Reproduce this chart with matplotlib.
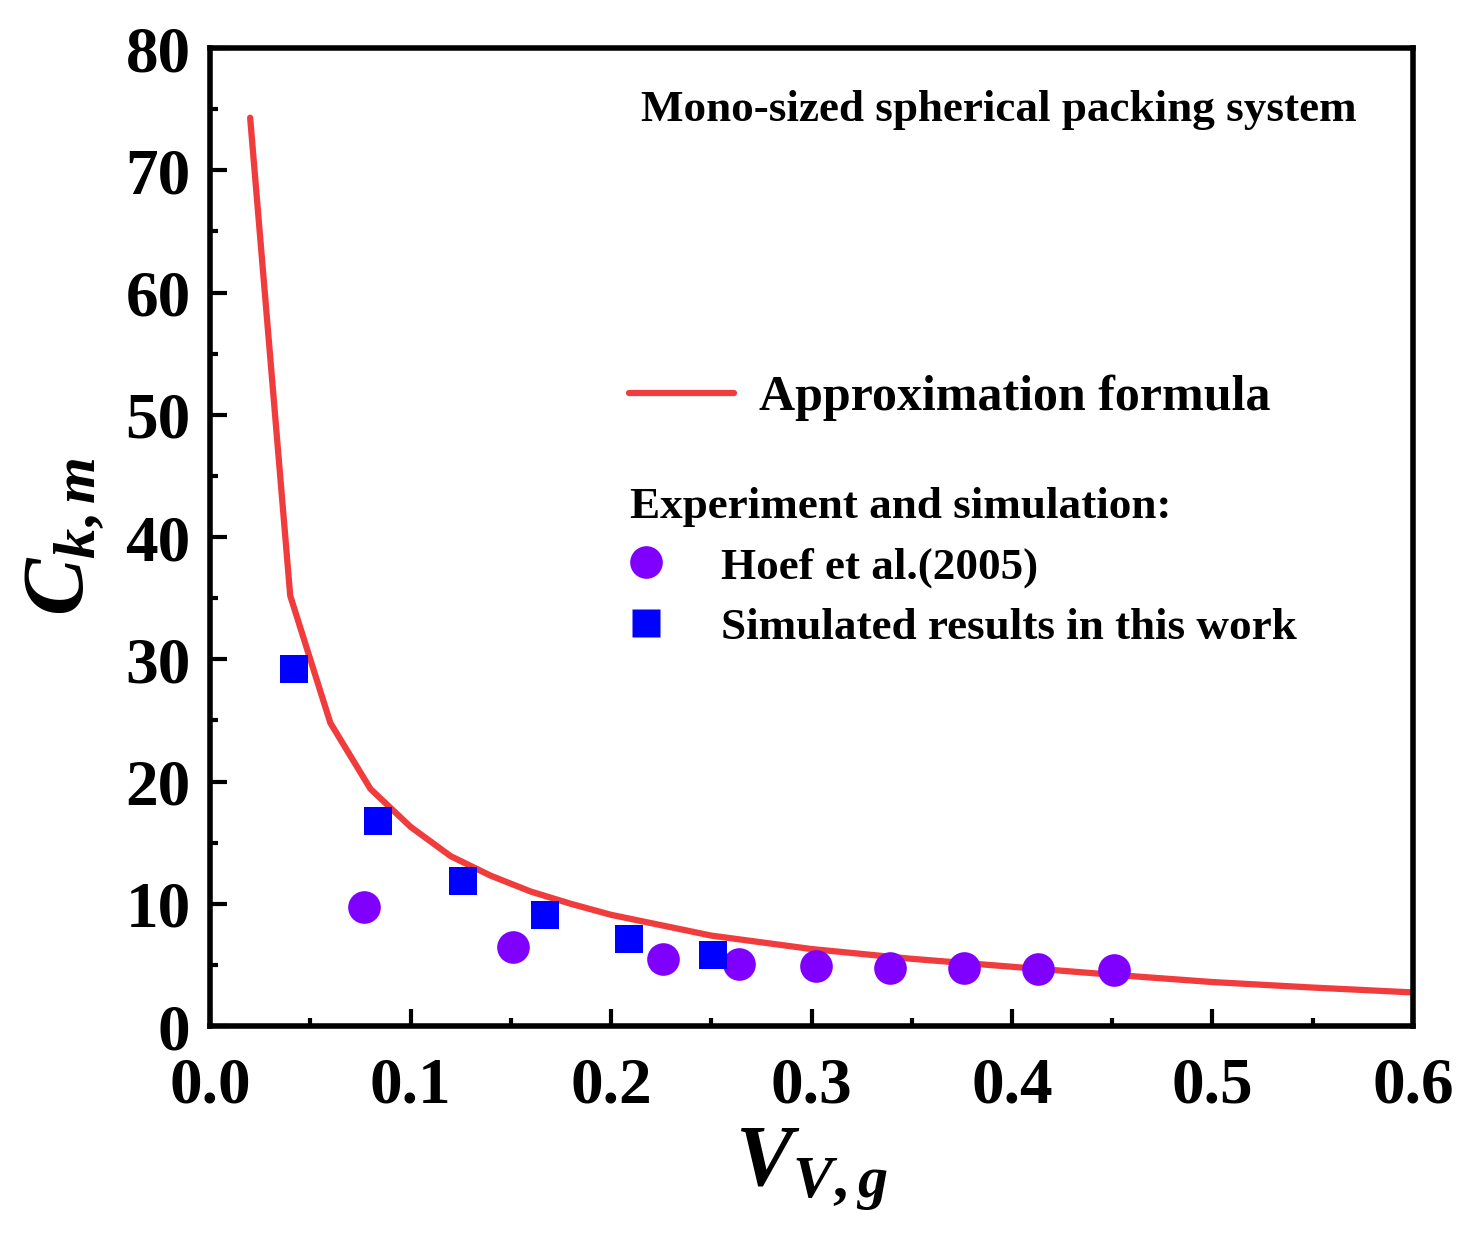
import matplotlib
matplotlib.use("Agg")
import matplotlib.pyplot as plt
from matplotlib.lines import Line2D

# approximation formula curve
vvg_curve = [0.02, 0.04, 0.06, 0.08, 0.10, 0.12, 0.14, 0.16, 0.18, 0.20,
             0.25, 0.30, 0.35, 0.40, 0.45, 0.50, 0.55, 0.60]
ckm_curve = [74.3, 35.2, 24.8, 19.4, 16.3, 13.9, 12.3, 11.0, 10.0, 9.1,
             7.4, 6.3, 5.5, 4.85, 4.2, 3.6, 3.15, 2.75]

# Hoef et al. (2005)
vvg_hoef = [0.077, 0.151, 0.226, 0.264, 0.302, 0.339, 0.376, 0.413, 0.451]
ckm_hoef = [9.7, 6.45, 5.5, 5.05, 4.88, 4.78, 4.78, 4.65, 4.6]

# simulated results in this work
vvg_sim = [0.042, 0.084, 0.126, 0.167, 0.209, 0.251]
ckm_sim = [29.2, 16.8, 11.9, 9.1, 7.1, 5.8]

plt.rcParams["font.family"] = ["Liberation Serif", "DejaVu Serif"]
plt.rcParams["font.weight"] = "bold"
plt.rcParams["mathtext.fontset"] = "custom"
plt.rcParams["mathtext.rm"] = "Liberation Serif:bold"
plt.rcParams["mathtext.it"] = "Liberation Serif:italic:bold"
plt.rcParams["mathtext.bf"] = "Liberation Serif:bold"

fig = plt.figure(figsize=(14.76, 12.41), dpi=100)
ax = fig.add_axes([0.1423, 0.1732, 0.8150, 0.7881])

line, = ax.plot(vvg_curve, ckm_curve, color="#F03C3C", lw=4.5,
                solid_joinstyle="round", solid_capstyle="round")
hoef = ax.scatter(vvg_hoef, ckm_hoef, s=23.5 ** 2, marker="o",
                  color="#7F00FF", zorder=3, linewidths=0)
sim = ax.scatter(vvg_sim, ckm_sim, s=20 ** 2, marker="s",
                 color="#0000FF", zorder=3, linewidths=0)

ax.set_xlim(0, 0.6)
ax.set_ylim(0, 80)
ax.set_xticks([0.0, 0.1, 0.2, 0.3, 0.4, 0.5, 0.6])
ax.set_xticks([0.05, 0.15, 0.25, 0.35, 0.45, 0.55], minor=True)
ax.set_yticks(range(0, 81, 10))
ax.set_yticks(range(5, 80, 10), minor=True)
ax.set_xticklabels(["0.0", "0.1", "0.2", "0.3", "0.4", "0.5", "0.6"])

for s in ax.spines.values():
    s.set_linewidth(4)
ax.tick_params(which="both", direction="in", top=False, right=False,
               width=3, labelsize=47)
ax.tick_params(which="major", length=12)
ax.tick_params(which="minor", length=6)
ax.tick_params(axis="x", pad=22)
ax.tick_params(axis="y", pad=14)

ax.set_xlabel(r"$V_{V,g}$", fontsize=62, labelpad=7)
ax.set_ylabel(r"$C_{k,m}$", fontsize=62, labelpad=14)

ax.text(0.953, 0.937, "Mono-sized spherical packing system",
        transform=ax.transAxes, ha="right", va="center", fontsize=32.5)

leg1 = ax.legend([line], ["Approximation formula"], loc="center left",
                 bbox_to_anchor=(0.348, 0.642), frameon=False, fontsize=36,
                 handlelength=2.1, handletextpad=0.5, borderpad=0,
                 borderaxespad=0)
ax.add_artist(leg1)

h_circ = Line2D([], [], ls="none", marker="o", ms=23.5, mec="none",
                color="#7F00FF")
h_sq = Line2D([], [], ls="none", marker="s", ms=20, mec="none",
              color="#0000FF")
leg2 = ax.legend([h_circ, h_sq],
                 ["Hoef et al.(2005)", "Simulated results in this work"],
                 title="Experiment and simulation:",
                 title_fontproperties={"size": 32.5, "weight": "bold"},
                 loc="upper left", bbox_to_anchor=(0.349, 0.551),
                 frameon=False, fontsize=32.5, alignment="left",
                 handlelength=0.7, handletextpad=1.32, labelspacing=0.43,
                 borderpad=0, borderaxespad=0)

fig.savefig("out.png", dpi=100)
